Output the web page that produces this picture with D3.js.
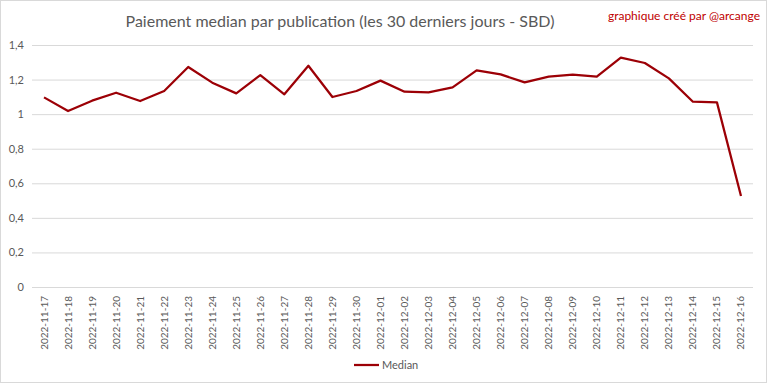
<!DOCTYPE html>
<html>
<head>
<meta charset="utf-8">
<script src="https://cdn.jsdelivr.net/npm/d3@7"></script>
<style>
  body { margin: 0; background: #fff; }
  text { font-family: Lato, "Open Sans", sans-serif; }
</style>
</head>
<body>
<div id="chart"></div>
<script>
// data
var dates = ['2022-11-17', '2022-11-18', '2022-11-19', '2022-11-20', '2022-11-21', '2022-11-22',
    '2022-11-23', '2022-11-24', '2022-11-25', '2022-11-26', '2022-11-27', '2022-11-28',
    '2022-11-29', '2022-11-30', '2022-12-01', '2022-12-02', '2022-12-03', '2022-12-04',
    '2022-12-05', '2022-12-06', '2022-12-07', '2022-12-08', '2022-12-09', '2022-12-10',
    '2022-12-11', '2022-12-12', '2022-12-13', '2022-12-14', '2022-12-15', '2022-12-16'];
var median = [1.097, 1.018, 1.078, 1.124, 1.076, 1.134,
    1.273, 1.182, 1.120, 1.226, 1.115, 1.280,
    1.099, 1.134, 1.194, 1.130, 1.126, 1.155,
    1.253, 1.230, 1.184, 1.217, 1.228, 1.217,
    1.327, 1.296, 1.207, 1.072, 1.068, 0.526];
var yTicks = [0, 0.2, 0.4, 0.6, 0.8, 1, 1.2, 1.4];

var width = 768, height = 384;
var plot = {left: 32, right: 753, top: 45, bottom: 287};
var textColor = '#595959';
var lineColor = '#9c0006';

var svg = d3.select('#chart').append('svg')
    .attr('width', width)
    .attr('height', height);

// outer frame
svg.append('rect')
    .attr('x', 0.5).attr('y', 0.5)
    .attr('width', width - 2).attr('height', height - 2)
    .attr('fill', '#fff')
    .attr('stroke', '#d9d9d9');

var x = d3.scaleBand()
    .domain(dates)
    .range([plot.left, plot.right]);

var y = d3.scaleLinear()
    .domain([0, 1.4])
    .range([plot.bottom, plot.top]);

var fmt = function (d) { return String(d).replace('.', ','); };

// gridlines + y labels
var yAxis = d3.axisLeft(y)
    .tickValues(yTicks)
    .tickSize(plot.left - plot.right)
    .tickPadding(8)
    .tickFormat(fmt);

svg.append('g')
    .attr('transform', 'translate(' + plot.left + ',0)')
    .call(yAxis)
    .call(function (g) {
        g.select('.domain').remove();
        g.selectAll('.tick line').attr('stroke', '#d9d9d9').attr('stroke-width', 1);
        g.selectAll('.tick text')
            .attr('x', -8)
            .attr('fill', textColor)
            .style('font-size', '11px');
    });

// x labels, rotated
var xAxis = d3.axisBottom(x).tickSize(0).tickPadding(0);
svg.append('g')
    .attr('transform', 'translate(0,' + plot.bottom + ')')
    .call(xAxis)
    .call(function (g) {
        g.select('.domain').remove();
        g.selectAll('.tick text')
            .attr('transform', 'rotate(-90)')
            .attr('x', -9)
            .attr('y', 0)
            .attr('dy', '0.35em')
            .attr('text-anchor', 'end')
            .attr('fill', textColor)
            .style('font-size', '10px');
    });

// the series
var line = d3.line()
    .x(function (d, i) { return x(dates[i]) + x.bandwidth() / 2; })
    .y(function (d) { return y(d); });

svg.append('path')
    .datum(median)
    .attr('d', line)
    .attr('fill', 'none')
    .attr('stroke', lineColor)
    .attr('stroke-width', 2.25)
    .attr('stroke-linejoin', 'round');

// title
svg.append('text')
    .attr('x', 340)
    .attr('y', 27)
    .attr('text-anchor', 'middle')
    .attr('fill', textColor)
    .style('font-size', '16px')
    .text('Paiement median par publication (les 30 derniers jours - SBD)');

// watermark
svg.append('text')
    .attr('x', 760)
    .attr('y', 20)
    .attr('text-anchor', 'end')
    .attr('fill', '#c00000')
    .style('font-size', '12px')
    .text('graphique créé par @arcange');

// legend
svg.append('line')
    .attr('x1', 354).attr('x2', 379)
    .attr('y1', 365).attr('y2', 365)
    .attr('stroke', lineColor)
    .attr('stroke-width', 2.25);

svg.append('text')
    .attr('x', 382)
    .attr('y', 365)
    .attr('dy', '0.35em')
    .attr('fill', textColor)
    .style('font-size', '11px')
    .text('Median');
</script>
</body>
</html>
